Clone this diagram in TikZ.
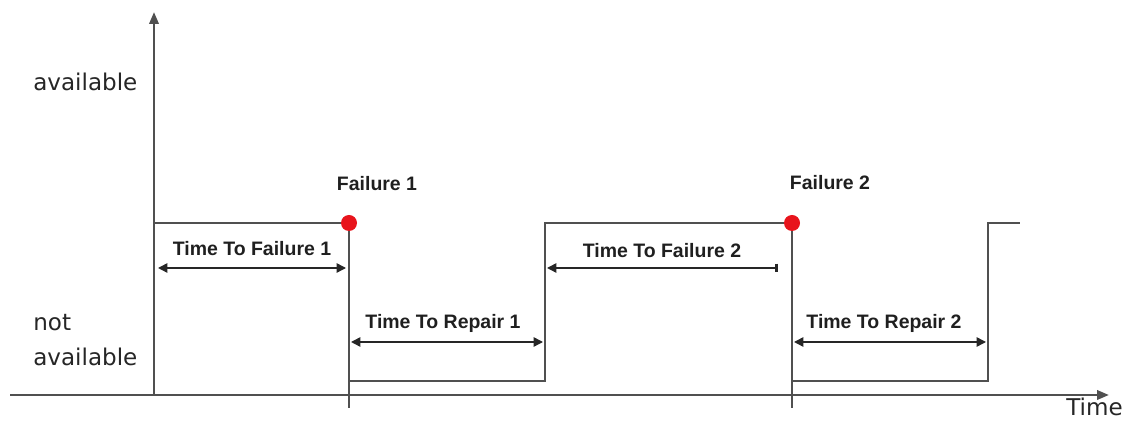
\documentclass[tikz,border=0pt]{standalone}
\usepackage{fontspec}
\setmainfont{Liberation Sans}
\newfontfamily\axisfont{DejaVu Sans}
\usetikzlibrary{arrows.meta}
\definecolor{sig}{HTML}{505050}
\definecolor{dotred}{HTML}{E8141C}
\definecolor{axtext}{HTML}{262626}
\tikzset{
  sigline/.style={draw=sig, line width=1.7pt},
  axisline/.style={draw=sig, line width=1.9pt},
  dimline/.style={draw=black!85, line width=1.1pt},
  dimarr/.style={dimline, {Triangle[length=7pt,width=7pt]}-{Triangle[length=7pt,width=7pt]}},
  dimbar/.style={dimline, {Triangle[length=7pt,width=7pt]}-{Bar[width=6.5pt,line width=2.4pt]}},
  boldlab/.style={font=\fontsize{14.6}{17}\selectfont\bfseries, text=black!88, inner sep=0pt},
  axlab/.style={font=\axisfont\fontsize{17.3}{20}\selectfont, text=axtext, inner sep=0pt, anchor=base west},
  reddot/.style={circle, fill=dotred, minimum size=12pt, inner sep=0pt}
}
\begin{document}
\begin{tikzpicture}[x=0.75pt,y=-0.75pt]
\useasboundingbox (0,0) rectangle (1129,423);
% axes
\coordinate (xs) at (10,395);
\coordinate (xe) at (1109,395);
\coordinate (ys) at (154,395);
\coordinate (ye) at (154,12);
\draw[axisline,-{Triangle[length=9pt,width=7pt]}] (xs) -- (xe);
\draw[axisline,-{Triangle[length=9pt,width=7pt]}] (ys) -- (ye);
% signal points
\coordinate (s0) at (154,223);
\coordinate (f1) at (349,223);
\coordinate (f1b) at (349,408);
\coordinate (l1) at (349,381);
\coordinate (r1l) at (545,381);
\coordinate (r1h) at (545,223);
\coordinate (f2) at (792,223);
\coordinate (f2b) at (792,408);
\coordinate (l2) at (792,381);
\coordinate (r2l) at (988,381);
\coordinate (r2h) at (988,223);
\coordinate (send) at (1020,223);
\draw[sigline] (s0) -- (f1) -- (f1b);
\draw[sigline] (l1) -- (r1l) -- (r1h) -- (f2) -- (f2b);
\draw[sigline] (l2) -- (r2l) -- (r2h) -- (send);
% failure dots
\node[reddot] (d1) at (f1) {};
\node[reddot] (d2) at (f2) {};
\node[boldlab] (fl1) at (377,184) {Failure 1};
\node[boldlab] (fl2) at (830,183) {Failure 2};
% dimension lines
\coordinate (a1s) at (158,268);
\coordinate (a1e) at (346,268);
\draw[dimarr] (a1s) -- (a1e);
\node[boldlab] (t1) at (252,249) {Time To Failure 1};
\coordinate (b1s) at (351,342);
\coordinate (b1e) at (543,342);
\draw[dimarr] (b1s) -- (b1e);
\node[boldlab] (t2) at (443,323) {Time To Repair 1};
\coordinate (a2s) at (547,268);
\coordinate (a2e) at (778,268);
\draw[dimbar] (a2s) -- (a2e);
\node[boldlab] (t3) at (662,251) {Time To Failure 2};
\coordinate (b2s) at (794,342);
\coordinate (b2e) at (986,342);
\draw[dimarr] (b2s) -- (b2e);
\node[boldlab] (t4) at (884,323) {Time To Repair 2};
% axis labels
\node[axlab] (av) at (33,91) {available};
\node[axlab] (na1) at (33,331) {not};
\node[axlab] (na2) at (33,366) {available};
\node[axlab] (tm) at (1066,416) {Time};
\end{tikzpicture}
\end{document}
